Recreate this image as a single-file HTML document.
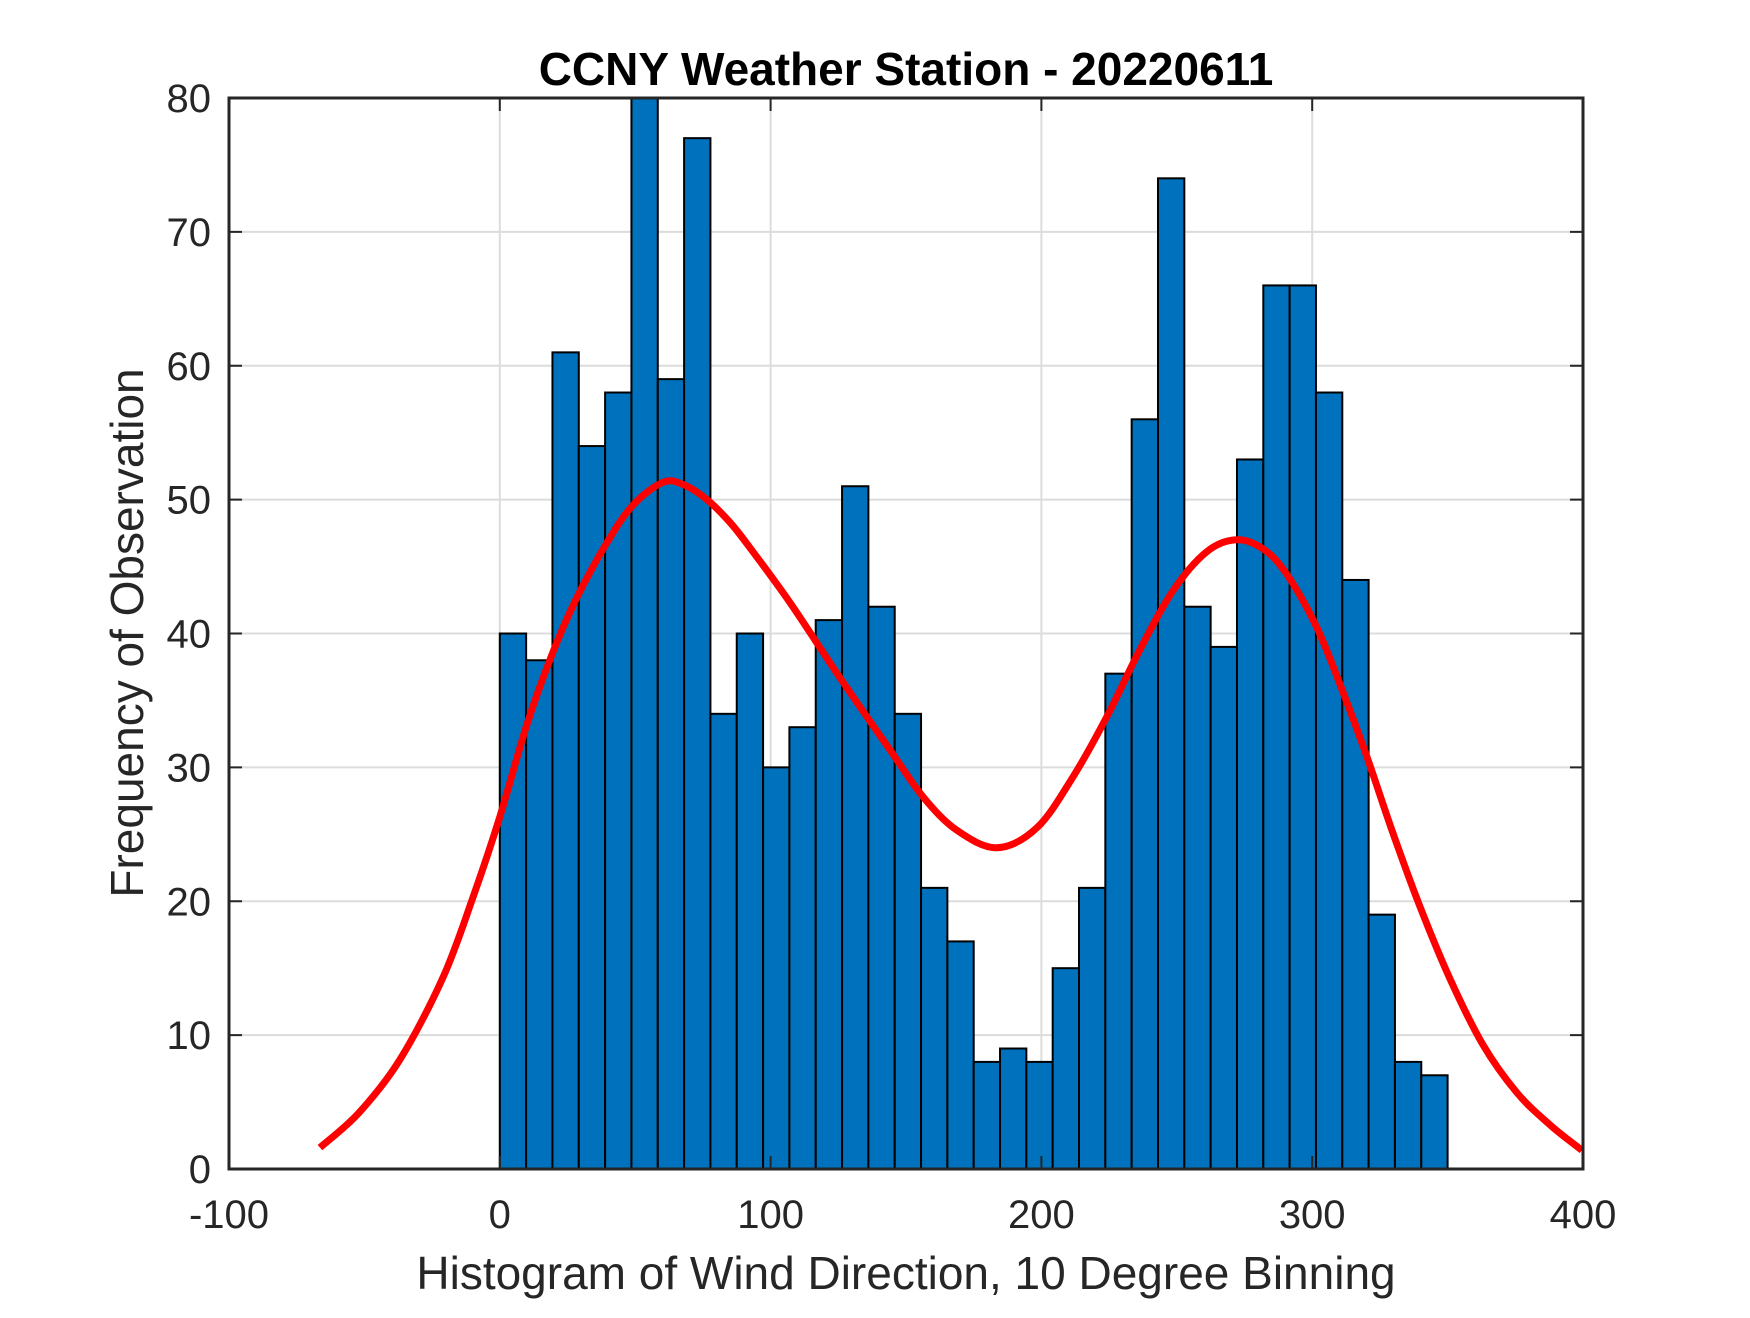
<!DOCTYPE html>
<html><head><meta charset="utf-8"><style>
body{margin:0;background:#fff}
svg text{font-family:"Liberation Sans",Arial,sans-serif;fill:#262626}
</style></head><body>
<svg id="c" width="1750" height="1313" xmlns="http://www.w3.org/2000/svg">
<rect width="1750" height="1313" fill="#fff"/>
<g id="grid"></g><g id="bars"></g><g id="curve"></g><g id="axes"></g>
<text x="906" y="85" text-anchor="middle" font-size="46" font-weight="bold" style="fill:#000">CCNY Weather Station - 20220611</text>
<text x="906" y="1289" text-anchor="middle" font-size="46">Histogram of Wind Direction, 10 Degree Binning</text>
<text transform="translate(143,633) rotate(-90)" text-anchor="middle" font-size="46">Frequency of Observation</text>
</svg>
<script>
const binMin=0, binMax=350;
const counts=[40,38,61,54,58,80,59,77,34,40,30,33,41,51,42,34,21,17,8,9,8,15,21,37,56,74,42,39,53,66,66,58,44,19,8,7];
const curveX=[-66.4,-52,-36.8,-21,-9.9,0,10,19.6,28.5,39.6,49.2,60.3,68,76.5,85,92.4,107.2,125.6,144.1,156.3,168.8,183.6,198.4,211.7,224.2,236.4,248.6,261,272,282,290.7,301.8,311.4,320.2,329.8,339.8,350.9,363,375.6,387.8,399.6];
const curveY=[1.6,4.2,8.2,14.3,20.3,26.3,33.2,38.6,42.7,46.8,49.6,51.3,51.1,50,48.3,46.4,42.3,36.7,31.3,27.8,25.3,24.0,25.5,29.3,33.8,38.8,43.2,46.1,47,46.3,44.4,40.4,35.6,30.8,25.1,19.6,14.2,9.3,5.7,3.3,1.4];
const xTicks=[-100,0,100,200,300,400];
const yTicks=[0,10,20,30,40,50,60,70,80];
const L=229,R=1583,T=98,B=1169;
const sx=v=>L+(v+100)/500*(R-L), sy=v=>B-v/80*(B-T);
const NS="http://www.w3.org/2000/svg";
function mk(p,t,a){const e=document.createElementNS(NS,t);for(const k in a)e.setAttribute(k,a[k]);p.appendChild(e);return e;}
const grid=document.getElementById('grid'),bars=document.getElementById('bars'),curve=document.getElementById('curve'),axes=document.getElementById('axes');
xTicks.forEach(v=>{
 const g=mk(grid,'line',{x1:sx(v),x2:sx(v),y1:T,y2:B,stroke:'#dcdcdc','stroke-width':2});
 
 
 mk(axes,'line',{x1:sx(v),x2:sx(v),y1:B,y2:B-13,stroke:'#262626','stroke-width':2});
 mk(axes,'line',{x1:sx(v),x2:sx(v),y1:T,y2:T+13,stroke:'#262626','stroke-width':2});
 const t=mk(axes,'text',{x:sx(v),y:1228,'text-anchor':'middle','font-size':40});t.textContent=v;
 
 
});
yTicks.forEach(v=>{
 const g=mk(grid,'line',{x1:L,x2:R,y1:sy(v),y2:sy(v),stroke:'#dcdcdc','stroke-width':2});
 
 
 mk(axes,'line',{x1:L,x2:L+13,y1:sy(v),y2:sy(v),stroke:'#262626','stroke-width':2});
 mk(axes,'line',{x1:R,x2:R-13,y1:sy(v),y2:sy(v),stroke:'#262626','stroke-width':2});
 const t=mk(axes,'text',{x:211,y:sy(v)+14,'text-anchor':'end','font-size':40});t.textContent=v;
 
 
});
const bw=(binMax-binMin)/counts.length;
counts.forEach((c,i)=>{
 const x0=sx(binMin+i*bw),x1=sx(binMin+(i+1)*bw);
 const r=mk(bars,'rect',{x:x0,y:sy(c),width:x1-x0,height:sy(0)-sy(c),fill:'#0072BD',stroke:'#000','stroke-width':2});
 
 
});
const pts=curveX.map((x,i)=>[sx(x),sy(curveY[i])]);
let d='M'+pts[0][0]+','+pts[0][1];
for(let i=0;i<pts.length-1;i++){
 const p0=pts[Math.max(i-1,0)],p1=pts[i],p2=pts[i+1],p3=pts[Math.min(i+2,pts.length-1)];
 d+=' C'+(p1[0]+(p2[0]-p0[0])/6)+','+(p1[1]+(p2[1]-p0[1])/6)+' '+(p2[0]-(p3[0]-p1[0])/6)+','+(p2[1]-(p3[1]-p1[1])/6)+' '+p2[0]+','+p2[1];
}
const pc=mk(curve,'path',{d:d,fill:'none',stroke:'#f00','stroke-width':7,'stroke-linejoin':'round'});


const box=mk(axes,'rect',{x:L,y:T,width:R-L,height:B-T,fill:'none',stroke:'#262626','stroke-width':3});


</script>
</body></html>
